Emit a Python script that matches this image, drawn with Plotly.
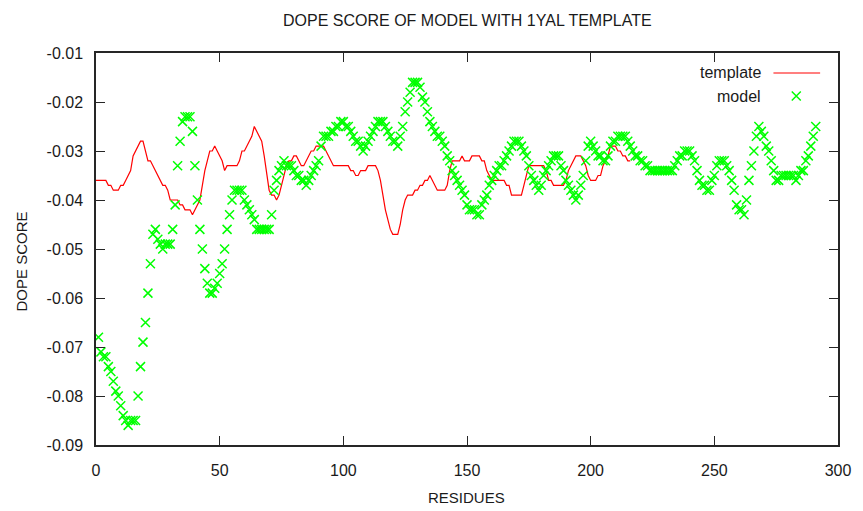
import plotly.graph_objects as go

# ---------------- data ----------------
model_start = 1
model_values = [
    -0.068, -0.071, -0.072, -0.072, -0.074, -0.075, -0.077, -0.079, -0.080,  # 1-9
    -0.082, -0.084, -0.085, -0.086, -0.085, -0.085, -0.085, -0.080, -0.074, -0.069,  # 10-19
    -0.065, -0.059, -0.053, -0.047, -0.046, -0.048, -0.049, -0.050, -0.049, -0.049,  # 20-29
    -0.049, -0.046, -0.041, -0.033, -0.028, -0.024, -0.023, -0.023, -0.023, -0.026,  # 30-39
    -0.033, -0.040, -0.046, -0.050, -0.054, -0.057, -0.059, -0.059, -0.058, -0.057,  # 40-49
    -0.055, -0.053, -0.050, -0.046, -0.043, -0.040, -0.038, -0.038, -0.038, -0.038,  # 50-59
    -0.040, -0.041, -0.042, -0.043, -0.044, -0.046, -0.046, -0.046, -0.046, -0.046,  # 60-69
    -0.046, -0.043, -0.038, -0.036, -0.034, -0.033, -0.032, -0.033, -0.033, -0.033,  # 70-79
    -0.034, -0.035, -0.035, -0.036, -0.036, -0.037, -0.036, -0.035, -0.034, -0.033,  # 80-89
    -0.032, -0.029, -0.027, -0.027, -0.027, -0.026, -0.026, -0.025, -0.025, -0.024,  # 90-99
    -0.024, -0.025, -0.025, -0.026, -0.027, -0.028, -0.028, -0.029, -0.030, -0.029,  # 100-109
    -0.028, -0.027, -0.026, -0.025, -0.024, -0.024, -0.024, -0.025, -0.026, -0.027,  # 110-119
    -0.028, -0.028, -0.029, -0.027, -0.025, -0.022, -0.020, -0.018, -0.016, -0.016,  # 120-129
    -0.016, -0.017, -0.019, -0.020, -0.022, -0.024, -0.025, -0.026, -0.027, -0.027,  # 130-139
    -0.028, -0.029, -0.031, -0.032, -0.034, -0.035, -0.036, -0.037, -0.038, -0.039,  # 140-149
    -0.041, -0.042, -0.042, -0.042, -0.043, -0.043, -0.041, -0.040, -0.039, -0.037,  # 150-159
    -0.036, -0.035, -0.034, -0.033, -0.033, -0.032, -0.031, -0.030, -0.029, -0.028,  # 160-169
    -0.028, -0.028, -0.029, -0.030, -0.031, -0.033, -0.035, -0.036, -0.037, -0.038,  # 170-179
    -0.037, -0.035, -0.034, -0.033, -0.032, -0.031, -0.031, -0.031, -0.033, -0.034,  # 180-189
    -0.036, -0.037, -0.038, -0.039, -0.040, -0.039, -0.037, -0.035, -0.032, -0.029,  # 190-199
    -0.028, -0.029, -0.030, -0.031, -0.031, -0.032, -0.032, -0.031, -0.029, -0.028,  # 200-209
    -0.028, -0.027, -0.027, -0.027, -0.027, -0.028, -0.029, -0.030, -0.031, -0.031,  # 210-219
    -0.032, -0.032, -0.033, -0.033, -0.034, -0.034, -0.034, -0.034, -0.034, -0.034,  # 220-229
    -0.034, -0.034, -0.034, -0.034, -0.033, -0.032, -0.031, -0.031, -0.030, -0.030,  # 230-239
    -0.030, -0.031, -0.032, -0.034, -0.036, -0.037, -0.037, -0.038, -0.038, -0.036,  # 240-249
    -0.035, -0.033, -0.032, -0.032, -0.032, -0.033, -0.034, -0.036, -0.038, -0.041,  # 250-259
    -0.042, -0.042, -0.043, -0.040, -0.036, -0.033, -0.030, -0.027, -0.025, -0.026,  # 260-269
    -0.027, -0.029, -0.030, -0.032, -0.034, -0.036, -0.036, -0.035, -0.035, -0.035,  # 270-279
    -0.035, -0.035, -0.035, -0.036, -0.035, -0.034, -0.034, -0.032, -0.031, -0.029,  # 280-289
    -0.027, -0.025,  # 290-291
]

template_start = 0
template_values = [
    -0.036, -0.036, -0.036, -0.036, -0.036, -0.037, -0.037, -0.038, -0.038, -0.038,  # 0-9
    -0.037, -0.037, -0.036, -0.035, -0.034, -0.031, -0.030, -0.029, -0.028, -0.028,  # 10-19
    -0.030, -0.032, -0.032, -0.033, -0.034, -0.035, -0.036, -0.037, -0.037, -0.038,  # 20-29
    -0.040, -0.040, -0.040, -0.040, -0.041, -0.041, -0.042, -0.042, -0.042, -0.043,  # 30-39
    -0.042, -0.041, -0.040, -0.037, -0.034, -0.032, -0.030, -0.030, -0.029, -0.030,  # 40-49
    -0.031, -0.032, -0.034, -0.033, -0.033, -0.033, -0.033, -0.033, -0.032, -0.030,  # 50-59
    -0.030, -0.029, -0.028, -0.027, -0.025, -0.026, -0.027, -0.028, -0.031, -0.035,  # 60-69
    -0.038, -0.039, -0.039, -0.040, -0.039, -0.037, -0.035, -0.033, -0.032, -0.032,  # 70-79
    -0.031, -0.031, -0.032, -0.033, -0.033, -0.032, -0.031, -0.030, -0.030, -0.029,  # 80-89
    -0.029, -0.029, -0.029, -0.030, -0.031, -0.032, -0.033, -0.033, -0.033, -0.033,  # 90-99
    -0.033, -0.033, -0.033, -0.034, -0.034, -0.035, -0.035, -0.034, -0.034, -0.034,  # 100-109
    -0.033, -0.033, -0.033, -0.033, -0.034, -0.036, -0.039, -0.042, -0.044, -0.046,  # 110-119
    -0.047, -0.047, -0.047, -0.045, -0.042, -0.040, -0.039, -0.039, -0.039, -0.038,  # 120-129
    -0.038, -0.037, -0.037, -0.036, -0.036, -0.035, -0.036, -0.037, -0.038, -0.038,  # 130-139
    -0.038, -0.038, -0.037, -0.034, -0.032, -0.032, -0.032, -0.032, -0.031, -0.032,  # 140-149
    -0.032, -0.032, -0.031, -0.031, -0.031, -0.031, -0.032, -0.032, -0.034, -0.035,  # 150-159
    -0.036, -0.036, -0.036, -0.036, -0.036, -0.036, -0.037, -0.037, -0.039, -0.039,  # 160-169
    -0.039, -0.039, -0.039, -0.037, -0.035, -0.033, -0.033, -0.033, -0.033, -0.033,  # 170-179
    -0.033, -0.033, -0.034, -0.036, -0.036, -0.037, -0.037, -0.037, -0.037, -0.037,  # 180-189
    -0.036, -0.034, -0.033, -0.032, -0.031, -0.031, -0.031, -0.032, -0.033, -0.035,  # 190-199
    -0.036, -0.036, -0.036, -0.035, -0.035, -0.033, -0.032, -0.031, -0.029, -0.029,  # 200-209
    -0.029, -0.030, -0.030, -0.031, -0.031, -0.032, -0.032,  # 210-216
]

model_residues = list(range(model_start, model_start + len(model_values)))
template_residues = list(range(template_start, template_start + len(template_values)))

x_tick_labels = ["0", "50", "100", "150", "200", "250", "300"]
y_tick_labels = ["-0.01", "-0.02", "-0.03", "-0.04", "-0.05", "-0.06", "-0.07", "-0.08", "-0.09"]

title_text = "DOPE SCORE OF MODEL WITH 1YAL TEMPLATE"
x_title = "RESIDUES"
y_title = "DOPE SCORE"
series_names = ["template", "model"]

# ---------------- styling ----------------
FONT = "Liberation Sans"
TXT = "#1a1a1a"
FRAME = "#262626"
RED = "#ff0000"
GREEN = "#00ff00"

fig = go.Figure()
fig.add_trace(go.Scatter(
    x=template_residues, y=template_values, mode="lines", name=series_names[0],
    line=dict(color=RED, width=1.2), showlegend=False, hoverinfo="skip"))
fig.add_trace(go.Scatter(
    x=model_residues, y=model_values, mode="markers", name=series_names[1],
    marker=dict(symbol="x-thin", size=9, line=dict(color=GREEN, width=1.5), color=GREEN),
    showlegend=False, hoverinfo="skip"))

axis_common = dict(
    showgrid=False, zeroline=False, showline=True, mirror="allticks",
    linecolor=FRAME, linewidth=1.5, ticks="inside", ticklen=9, tickwidth=1.3,
    tickcolor=FRAME, tickfont=dict(family=FONT, size=16, color=TXT),
)

fig.update_xaxes(range=[0, 300], tickvals=[float(t) for t in x_tick_labels],
                 ticktext=x_tick_labels, ticklabelstandoff=10, **axis_common)
fig.update_yaxes(range=[-0.09, -0.01], tickvals=[float(t) for t in y_tick_labels],
                 ticktext=y_tick_labels, ticklabelstandoff=8, **axis_common)

# The page body has an 8px margin, so the figure is drawn 8px in from the window corner.
OFF = 8
W, H = 863 - OFF, 511 - OFF
L, R, T, B = 96 - OFF, 20, 53 - OFF, 66
pw, ph = W - L - R, H - T - B

def px(xp):  # window pixel -> paper x
    return (xp - OFF - L) / pw

def py(yp):  # window pixel -> paper y
    return (H - B - (yp - OFF)) / ph

annotations = [
    dict(text=title_text, x=px(470), y=py(20), xref="paper", yref="paper",
         showarrow=False, xanchor="center", yanchor="middle",
         font=dict(family=FONT, size=16, color=TXT)),
    dict(text=x_title, x=px(469), y=py(497), xref="paper", yref="paper",
         showarrow=False, xanchor="center", yanchor="middle",
         font=dict(family=FONT, size=15, color=TXT)),
    dict(text=y_title, x=px(20), y=py(262), xref="paper", yref="paper",
         showarrow=False, xanchor="center", yanchor="middle", textangle=-90,
         font=dict(family=FONT, size=15, color=TXT)),
    dict(text=series_names[0], x=px(767), y=py(73), xref="paper", yref="paper",
         showarrow=False, xanchor="right", yanchor="middle",
         font=dict(family=FONT, size=16, color=TXT)),
    dict(text=series_names[1], x=px(767), y=py(96), xref="paper", yref="paper",
         showarrow=False, xanchor="right", yanchor="middle",
         font=dict(family=FONT, size=16, color=TXT)),
]

shapes = [
    dict(type="line", xref="paper", yref="paper", x0=px(778), x1=px(825),
         y0=py(73), y1=py(73), line=dict(color=RED, width=1.2)),
    dict(type="path", xref="paper", yref="paper", xsizemode="pixel", ysizemode="pixel",
         xanchor=px(801), yanchor=py(96),
         path="M -4.5 -4.5 L 4.5 4.5 M -4.5 4.5 L 4.5 -4.5",
         line=dict(color=GREEN, width=1.5)),
]

fig.update_layout(
    width=W, height=H, autosize=False,
    margin=dict(l=L, r=R, t=T, b=B, pad=0),
    paper_bgcolor="white", plot_bgcolor="white",
    annotations=annotations, shapes=shapes,
    font=dict(family=FONT, color=TXT),
)

fig.write_html("out.html")
